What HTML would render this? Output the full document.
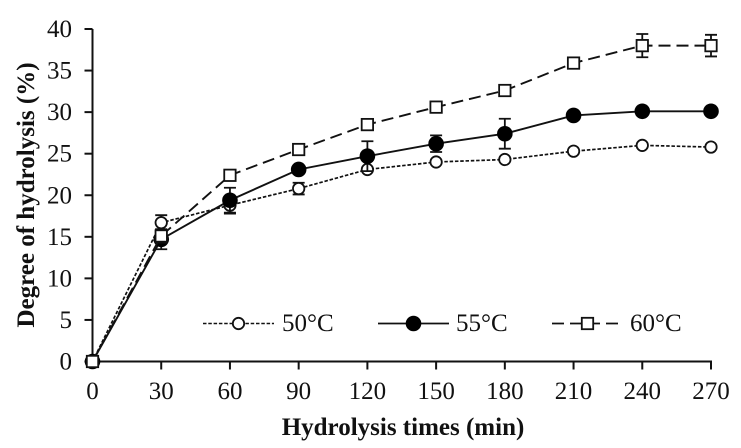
<!DOCTYPE html>
<html>
<head>
<meta charset="utf-8">
<style>
html,body{margin:0;padding:0;background:#fff;}
svg{display:block;}
text{font-family:"Liberation Serif",serif;fill:#111;}
.tick{font-size:25px;}
.title{font-size:25px;font-weight:bold;}
.leg{font-size:25px;}
</style>
</head>
<body>
<svg id="chart" width="741" height="448" viewBox="0 0 741 448" xmlns="http://www.w3.org/2000/svg">
<text class="title" transform="translate(34,195) rotate(-90)" text-anchor="middle">Degree of hydrolysis (%)</text>
<text class="title" x="403" y="435" text-anchor="middle">Hydrolysis times (min)</text>
</svg>
<script>
const times = [0, 30, 60, 90, 120, 150, 180, 210, 240, 270];
const yTicks = [0, 5, 10, 15, 20, 25, 30, 35, 40];
const s50 = [0, 16.7, 18.8, 20.8, 23.1, 24.0, 24.3, 25.3, 26.0, 25.8];
const e50 = [0, 0.9, 1.0, 0.7, 0, 0, 0, 0, 0, 0];
const s55 = [0, 14.7, 19.4, 23.1, 24.7, 26.2, 27.4, 29.6, 30.1, 30.1];
const e55 = [0, 1.2, 1.5, 0, 1.8, 1.0, 1.8, 0, 0, 0];
const s60 = [0, 15.1, 22.4, 25.5, 28.5, 30.6, 32.6, 35.9, 38.0, 38.0];
const e60 = [0, 0.8, 0, 0, 0, 0, 0, 0, 1.4, 1.3];
const legendLabels = ["50°C", "55°C", "60°C"];

const svg = document.getElementById('chart');
const NS = 'http://www.w3.org/2000/svg';
const x = v => 92.5 + v * (618.5 / 270);
const y = v => 361.5 - v * (332.5 / 40);
const INK = '#111';

function mk(tag, attrs, parent) {
  const el = document.createElementNS(NS, tag);
  for (const k in attrs) el.setAttribute(k, attrs[k]);
  (parent || svg).appendChild(el);
  return el;
}

// axes
const axes = mk('g', {stroke: INK, 'stroke-width': 2, fill: 'none'});


const yAxis = mk('line', {x1: x(0), x2: x(0), y1: y(40), y2: y(0)}, axes);


const xAxis = mk('line', {x1: x(0) - 8, x2: x(270) + 1, y1: y(0), y2: y(0)}, axes);



yTicks.forEach(t => {
  const tick = mk('line', {x1: x(0) - 8, x2: x(0), y1: y(t), y2: y(t)}, axes);
  
  
  const label = mk('text', {class: 'tick', x: 72, y: y(t) + 8, 'text-anchor': 'end'});
  
  
  label.textContent = t;
});
times.forEach(t => {
  if (t > 0) {
    const tick = mk('line', {x1: x(t), x2: x(t), y1: y(0), y2: y(0) + 8}, axes);
    
    
  }
  const label = mk('text', {class: 'tick', x: x(t), y: 399, 'text-anchor': 'middle'});
  
  
  label.textContent = t;
});

function marker(kind, cx, cy, parent) {
  let m;
  if (kind === 'open') {
    m = mk('circle', {cx: cx, cy: cy, r: 5.7, fill: '#fff', stroke: INK, 'stroke-width': 1.8}, parent);
  } else if (kind === 'solid') {
    m = mk('circle', {cx: cx, cy: cy, r: 7.8, fill: '#000', stroke: 'none'}, parent);
  } else {
    m = mk('rect', {x: cx - 5.7, y: cy - 5.7, width: 11.4, height: 11.4, fill: '#fff', stroke: INK, 'stroke-width': 1.8}, parent);
  }
  
  
}

function series(name, vals, errs, dash, width, kind) {
  const g = mk('g', {});
  
  
  errs.forEach((e, i) => {
    if (!e) return;
    const px = x(times[i]);
    const eb = mk('path', {
      d: 'M' + (px - 6) + ' ' + y(vals[i] + e) + 'H' + (px + 6) +
         'M' + px + ' ' + y(vals[i] + e) + 'V' + y(vals[i] - e) +
         'M' + (px - 6) + ' ' + y(vals[i] - e) + 'H' + (px + 6),
      stroke: INK, 'stroke-width': 1.8, fill: 'none'
    }, g);
    
    
  });
  const pts = vals.map((v, i) => x(times[i]) + ',' + y(v)).join(' ');
  const line = mk('polyline', {points: pts, fill: 'none', stroke: INK, 'stroke-width': width, 'stroke-dasharray': dash}, g);
  
  
  vals.forEach((v, i) => marker(kind, x(times[i]), y(v), g));
}

series('series-50c', s50, e50, '3.5 1.8', 1.7, 'open');
series('series-55c', s55, e55, 'none', 1.9, 'solid');
series('series-60c', s60, e60, '12 6', 1.9, 'square');

// legend
const legendStyles = [
  {x1: 203, dash: '3.5 1.8', w: 1.5, kind: 'open', tx: 282},
  {x1: 378, dash: 'none', w: 1.7, kind: 'solid', tx: 456},
  {x1: 552, dash: '12 6', w: 1.7, kind: 'square', tx: 630}
];
legendLabels.forEach((lab, i) => {
  const st = legendStyles[i];
  const g = mk('g', {});
  
  
  const l = mk('line', {x1: st.x1, x2: st.x1 + 71, y1: 323.5, y2: 323.5, stroke: INK, 'stroke-width': st.w, 'stroke-dasharray': st.dash}, g);
  
  
  marker(st.kind, st.x1 + 35.5, 323.5, g);
  const t = mk('text', {class: 'leg', x: st.tx, y: 331}, g);
  
  
  t.textContent = lab;
});
</script>
</body>
</html>
